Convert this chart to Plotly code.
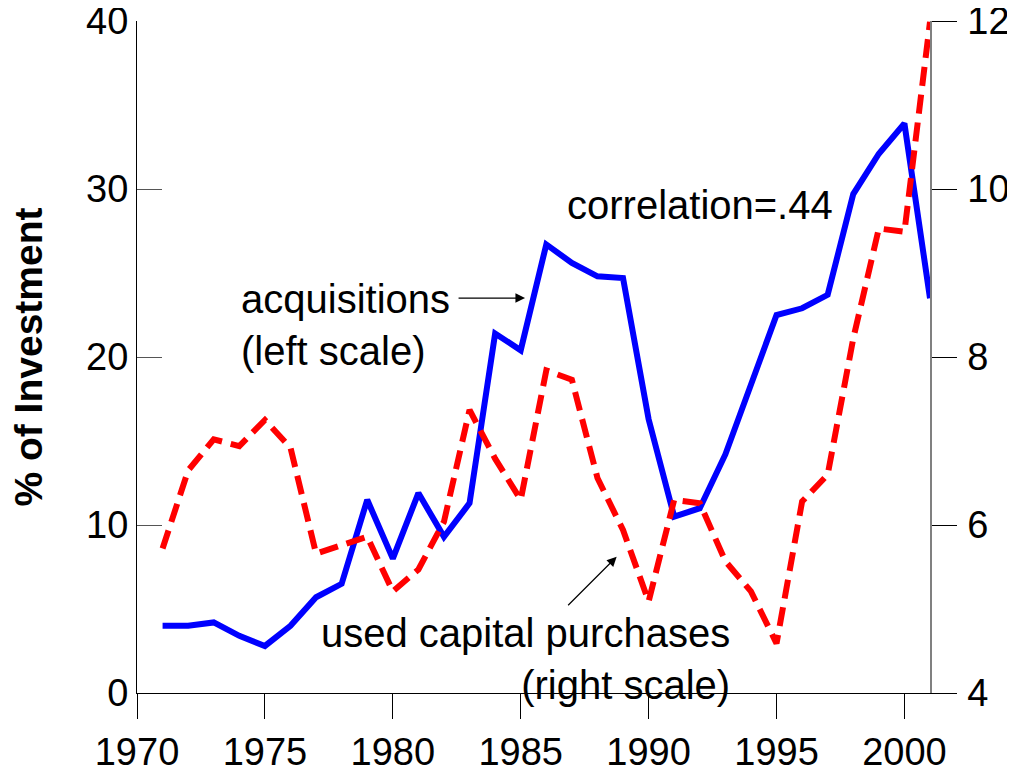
import plotly.graph_objects as go

# data
years = list(range(1971, 2002))
acquisitions = [4.0, 4.0, 4.2, 3.4, 2.8, 4.0, 5.7, 6.5, 11.5, 8.0,
                11.9, 9.3, 11.3, 21.4, 20.4, 26.7, 25.6, 24.8, 24.7, 16.3,
                10.5, 11.0, 14.2, 18.4, 22.5, 22.9, 23.7, 29.7, 32.1, 33.9,
                23.5]
used_capital = [5.72, 6.65, 7.02, 6.94, 7.25, 6.92, 5.66, 5.76, 5.86, 5.21,
                5.47, 6.04, 7.37, 6.79, 6.30, 7.84, 7.73, 6.56, 5.94, 5.09,
                6.30, 6.26, 5.57, 5.21, 4.59, 6.28, 6.60, 8.22, 9.53, 9.49,
                11.99]
x_ticks = [1970, 1975, 1980, 1985, 1990, 1995, 2000]
left_ticks = [0, 10, 20, 30, 40]
right_ticks = [4, 6, 8, 10, 12]

font = "Liberation Sans, Arial, sans-serif"

fig = go.Figure()
fig.add_trace(go.Scatter(x=years, y=acquisitions, mode='lines', name='acquisitions',
                         line=dict(color='#0000ff', width=6)))
fig.add_trace(go.Scatter(x=years, y=used_capital, mode='lines', name='used capital purchases',
                         yaxis='y2', line=dict(color='#ff0000', width=6, dash='19px,9px')))

# text labels
fig.add_annotation(x=1986.75, y=29.05, xref='x', yref='y', text='correlation=.44',
                   showarrow=False, xanchor='left', yanchor='middle',
                   font=dict(family=font, size=40, color='black'))
fig.add_annotation(x=1973.98, y=21.9, xref='x', yref='y', text='acquisitions<br>(left scale)',
                   showarrow=False, xanchor='left', yanchor='middle', align='left',
                   font=dict(family=font, size=40, color='black'))
fig.add_annotation(x=1993.25, y=2.05, xref='x', yref='y',
                   text='used capital purchases<br>(right scale)',
                   showarrow=False, xanchor='right', yanchor='middle', align='right',
                   font=dict(family=font, size=40, color='black'))

# arrows
fig.add_annotation(x=1985.17, y=23.51, xref='x', yref='y', text='', showarrow=True,
                   ax=-68, ay=0, arrowhead=2, arrowsize=1.6, arrowwidth=1.2, arrowcolor='black')
fig.add_annotation(x=1988.75, y=8.11, xref='x', yref='y', text='', showarrow=True,
                   ax=-50, ay=50, arrowhead=2, arrowsize=1.6, arrowwidth=1.2, arrowcolor='black')

# y-axis title
fig.add_annotation(x=-0.138, y=0.5, xref='paper', yref='paper', text='% of Investment',
                   showarrow=False, textangle=-90, xanchor='center', yanchor='middle',
                   font=dict(family=font, size=39, color='black', weight='bold'))

# page body has an 8px margin, so the figure is shrunk by 8px and the plot placed 8px up/left
fig.update_layout(
    template='simple_white',
    width=1007, height=766,
    autosize=False,
    margin=dict(l=129, r=85, t=13, b=81, autoexpand=False),
    plot_bgcolor='white',
    paper_bgcolor='white',
    showlegend=False,
    font=dict(family=font, size=38, color='black'),
    xaxis=dict(
        range=[1970, 2001], tickmode='array', tickvals=x_ticks,
        showgrid=False, zeroline=False,
        showline=True, linecolor='black', linewidth=1,
        ticks='outside', ticklen=25, tickcolor='black', tickwidth=1,
        tickfont=dict(family=font, size=38, color='black'),
        ticklabeloverflow='allow',
    ),
    yaxis=dict(
        range=[0, 40], tickmode='array', tickvals=left_ticks,
        showgrid=False, zeroline=False,
        showline=True, linecolor='black', linewidth=1,
        ticks='inside', ticklen=25, tickcolor='#555555', tickwidth=1,
        tickfont=dict(family=font, size=38, color='black'),
        ticklabeloverflow='allow',
    ),
    yaxis2=dict(
        range=[4, 12], tickmode='array', tickvals=right_ticks,
        overlaying='y', side='right',
        showgrid=False, zeroline=False,
        showline=True, linecolor='#808080', linewidth=1.5,
        ticks='outside', ticklen=25, tickcolor='black', tickwidth=1,
        tickfont=dict(family=font, size=38, color='black'),
        ticklabeloverflow='allow', ticklabelstandoff=3,
    ),
)

fig.write_html("out.html")
